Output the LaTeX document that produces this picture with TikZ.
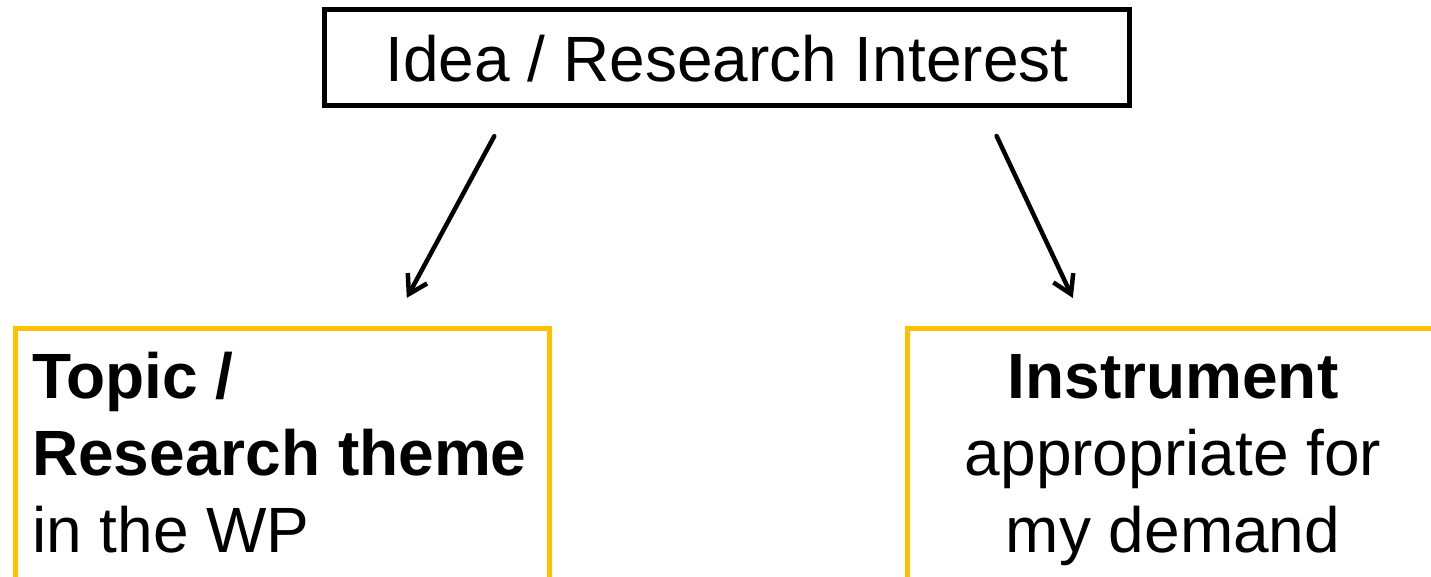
\documentclass[tikz,border=0pt]{standalone}
\usepackage{fontspec}
\setmainfont{Liberation Sans}
\usetikzlibrary{arrows.meta}
\definecolor{boxorange}{HTML}{FFC000}
\begin{document}
\begin{tikzpicture}[x=1pt,y=-1pt,
  topbox/.style={draw=black, line width=5pt, minimum width=805pt, minimum height=96pt, inner sep=0pt},
  orangebox/.style={draw=boxorange, line width=5pt, anchor=north west, inner sep=0pt},
  bigtext/.style={font=\fontsize{64}{77}\selectfont, inner sep=0pt},
  arr/.style={line width=4.5pt, line cap=round, -{Straight Barb[length=18pt,width=22pt,line width=4.5pt]}}]
\useasboundingbox (0,0) rectangle (1431,576);
\clip (0,0) rectangle (1431,576);
\node[topbox] (top) at (726.5,57.5) {};
\node[bigtext, anchor=base] (toptext) at (727,81.7) {Idea / Research Interest};
\node[orangebox, minimum width=534pt, minimum height=300pt] (left) at (12.7,326) {};
\node[orangebox, minimum width=600pt, minimum height=300pt] (right) at (905,326) {};
\node[bigtext, anchor=base west] (lefttext) at (32,398.3) {\textbf{Topic /}};
\node[bigtext, anchor=base west] (lefttext2) at (lefttext.base west) [yshift=-77pt] {\textbf{Research theme}};
\node[bigtext, anchor=base west] (lefttext3) at (lefttext2.base west) [yshift=-77pt] {in the WP};
\node[bigtext, anchor=base] (righttext) at (1173,398.3) {\textbf{Instrument}};
\node[bigtext, anchor=base] (righttext2) at (righttext.base) [yshift=-77pt] {appropriate for};
\node[bigtext, anchor=base] (righttext3) at (righttext2.base) [yshift=-77pt] {my demand};
\draw[arr, shorten <=32pt, shorten >=32pt] (509.5,0 |- top.south) -- (391.6,0 |- left.north);
\draw[arr, shorten <=31pt, shorten >=31pt] (983.4,0 |- top.south) -- (1086,0 |- right.north);
\end{tikzpicture}
\end{document}
